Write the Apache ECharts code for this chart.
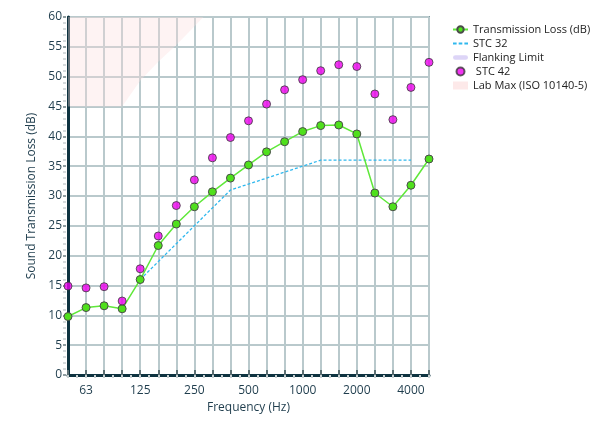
<!DOCTYPE html>
<html>
<head>
<meta charset="utf-8">
<script src="https://cdn.jsdelivr.net/npm/echarts@6/dist/echarts.min.js"></script>
<style>
  html, body { margin: 0; padding: 0; background: #fff; }
  #chart { width: 596px; height: 432px; }
</style>
</head>
<body>
<div id="chart"></div>
<script>
// 1/3 octave bands
const freqs = ['50', '63', '80', '100', '125', '160', '200', '250', '315', '400', '500',
  '630', '800', '1000', '1250', '1600', '2000', '2500', '3150', '4000', '5000']
const labelled = ['63', '125', '250', '500', '1000', '2000', '4000']

const transmissionLoss = [9.8, 11.3, 11.6, 11.1, 16.0, 21.7, 25.3, 28.2, 30.7, 33.0, 35.2,
  37.4, 39.1, 40.8, 41.8, 41.9, 40.4, 30.5, 28.2, 31.8, 36.2]
const stc32 = [null, null, null, null, 16, 19, 22, 25, 28, 31, 32,
  33, 34, 35, 36, 36, 36, 36, 36, 36, null]
const stc42 = [14.9, 14.6, 14.8, 12.4, 17.8, 23.3, 28.4, 32.7, 36.4, 39.8, 42.6,
  45.4, 47.8, 49.5, 51.0, 52.0, 51.7, 47.1, 42.8, 48.2, 52.4]
const labMax = [45, 45, 45, 45, 49.3, 52.5, 55.3, 58.4, 61.6, null, null,
  null, null, null, null, null, null, null, null, null, null]
const flanking = []

const textColor = '#1f3d4d'
const axisDark = '#0e3340'
const font = 'Open Sans'

const chart = echarts.init(document.getElementById('chart'))
chart.setOption({
  animation: false,
  textStyle: { fontFamily: font, color: textColor },
  grid: {
    left: 68, right: 167, top: 17, bottom: 57,
    show: true, borderColor: '#7f9ca3', borderWidth: 2,
  },
  legend: {
    orient: 'vertical',
    left: 447, top: 19,
    itemGap: 3,
    itemWidth: 15, itemHeight: 8,
    textStyle: { fontFamily: font, fontSize: 11, color: '#222' },
    data: [
      { name: 'Transmission Loss (dB)' },
      { name: 'STC 32', icon: 'path://M0,0h3.5v2h-3.5z M5.5,0h3.5v2h-3.5z M11,0h3.5v2h-3.5z' },
      { name: 'Flanking Limit', icon: 'path://M2.5,0h11a2.5,2.5 0 0 1 0,5h-11a2.5,2.5 0 0 1 0,-5z' },
      { name: ' STC 42', icon: 'circle' },
      { name: 'Lab Max (ISO 10140-5)', icon: 'rect' },
    ],
  },
  xAxis: [
    {
      type: 'category',
      data: freqs,
      boundaryGap: false,
      name: 'Frequency (Hz)',
      nameLocation: 'middle',
      nameGap: 27,
      nameTextStyle: { fontSize: 12, color: textColor },
      axisLine: { lineStyle: { color: axisDark, width: 3 } },
      axisTick: { inside: true, interval: 0, length: 5, lineStyle: { color: '#5d6f73', width: 2 } },
      axisLabel: {
        interval: (i, v) => labelled.includes(v),
        fontSize: 12, color: textColor, margin: 10,
      },
      splitLine: { show: true, interval: 0, lineStyle: { color: '#b9c9cc', width: 2 } },
    },
    {
      // half-band minor ticks just below the axis line
      type: 'value',
      min: 0, max: 20, interval: 0.5,
      position: 'bottom',
      offset: 2,
      axisLine: { show: false },
      axisLabel: { show: false },
      splitLine: { show: false },
      axisTick: { length: 3, lineStyle: { color: '#c8d0d2', width: 2 } },
    },
  ],
  yAxis: [
    {
      type: 'value',
      min: 0, max: 60, interval: 5,
      name: 'Sound Transmission Loss (dB)',
      nameLocation: 'middle',
      nameGap: 25,
      nameTextStyle: { fontSize: 12, color: textColor },
      axisLine: { show: true, lineStyle: { color: axisDark, width: 3 } },
      axisTick: { show: false },
      axisLabel: { fontSize: 12, color: textColor, margin: 6 },
      splitLine: { lineStyle: { color: '#b9c9cc', width: 2 } },
    },
    {
      // ticks just left of the axis line
      type: 'value',
      min: 0, max: 60, interval: 5,
      position: 'left',
      offset: 2,
      axisLine: { show: false },
      axisTick: { show: true, length: 3, lineStyle: { color: '#8f9da0', width: 2 } },
      minorTick: { show: true, splitNumber: 5, length: 3, lineStyle: { color: '#d5dadc', width: 2 } },
      axisLabel: { show: false },
      splitLine: { show: false },
    },
  ],
  series: [
    {
      name: 'Lab Max (ISO 10140-5)',
      type: 'line',
      data: labMax,
      symbol: 'none',
      lineStyle: { width: 0 },
      itemStyle: { color: '#fde9e9' },
      areaStyle: { origin: 'end', color: 'rgba(252,220,220,0.5)' },
      z: 1,
    },
    {
      name: 'Flanking Limit',
      type: 'line',
      data: flanking,
      symbol: 'none',
      itemStyle: { color: '#ddd5f7' },
      lineStyle: { color: '#ddd5f7', width: 5, cap: 'round' },
    },
    {
      name: 'STC 32',
      type: 'line',
      data: stc32,
      symbol: 'none',
      itemStyle: { color: '#2fb8ee' },
      lineStyle: { color: '#2fb8ee', width: 1.3, type: [3, 2] },
      z: 3,
    },
    {
      name: 'Transmission Loss (dB)',
      type: 'line',
      data: transmissionLoss,
      symbol: 'circle',
      symbolSize: 8,
      itemStyle: { color: '#4fe01c', borderColor: '#4a4a4a', borderWidth: 1 },
      lineStyle: { color: '#5fe83a', width: 1.5 },
      z: 4,
    },
    {
      name: ' STC 42',
      type: 'scatter',
      data: stc42,
      symbol: 'circle',
      symbolSize: 8,
      itemStyle: { color: '#ee00ee', borderColor: '#3a3a3a', borderWidth: 1 },
      z: 5,
    },
  ],
})
</script>
</body>
</html>
